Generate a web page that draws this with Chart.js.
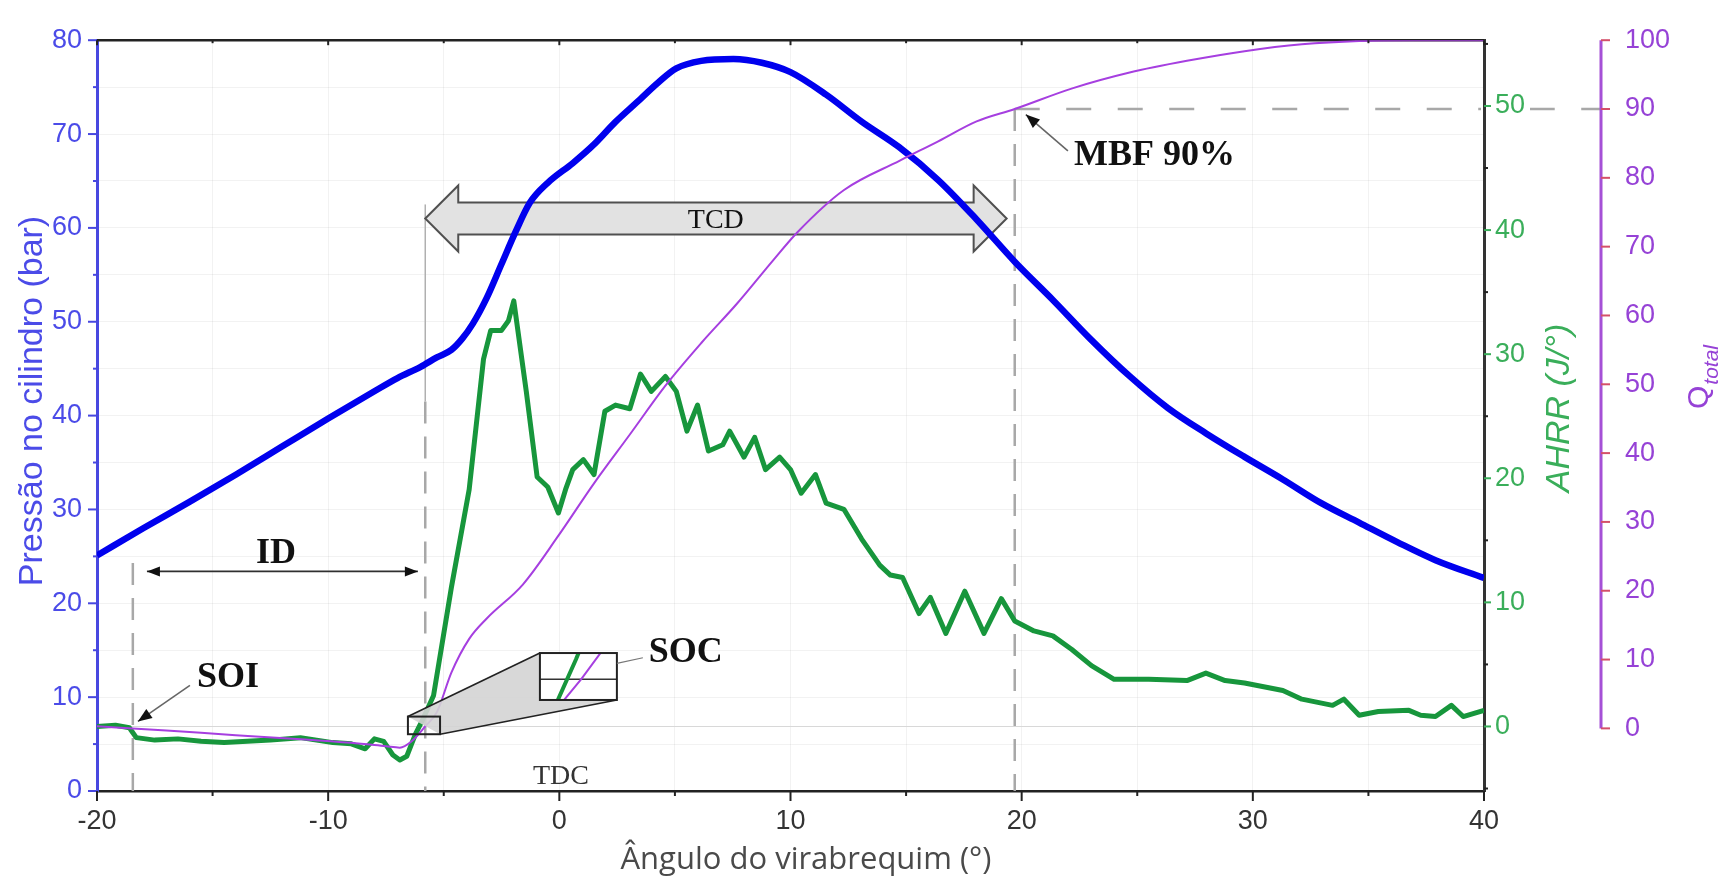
<!DOCTYPE html>
<html lang="pt-br">
<head>
<meta charset="UTF-8">
<title>Pressão no cilindro, AHRR e Q total</title>
<script src="https://cdn.jsdelivr.net/npm/chart.js"></script>
<style>
    html, body { margin: 0; padding: 0; background: #fff; overflow: hidden; }
    #grafico { display: block; }
</style>
</head>
<body>

<canvas id="grafico" width="1731" height="889"></canvas>

<script>
// Pressão no cilindro (bar) x ângulo do virabrequim (°)
const pressaoAngulo = [-20, -18, -16, -14, -12, -10, -8, -7, -6,
    -5.3, -4.67, -4.2, -3.74, -3.13, -2.51, -1.89, -1.27, -0.5,
    0.58, 1.5, 2.43, 3.36, 4.28, 5.06, 6.14, 7.53, 8.76, 10,
    11.54, 13.09, 14.7, 16.39, 18.05, 19.7, 21.36, 23, 24.67, 26.33,
    27.98, 29.64, 31.3, 32.94, 34.6, 36.27, 37.9, 40];
const pressao = [25.1, 28.0, 30.8, 33.7, 36.7, 39.7, 42.6, 44.0, 45.2,
    46.2, 47.0, 48.2, 49.8, 52.6, 56.1, 59.6, 62.7, 64.8,
    66.9, 68.9, 71.3, 73.4, 75.5, 77.0, 77.8, 78.0, 77.6, 76.6,
    74.2, 71.3, 68.6, 65.1, 60.9, 56.4, 52.3, 48.1, 44.2, 40.8,
    38.1, 35.6, 33.2, 30.7, 28.6, 26.5, 24.6, 22.7];

// Taxa aparente de liberação de calor, AHRR (J/°)
const ahrrAngulo = [-20, -19.2, -18.6, -18.3, -17.5, -16.5, -15.5, -14.5, -13.5, -12.5,
    -11.2, -10.5, -9.8, -9.0, -8.4, -8.0, -7.6, -7.2, -6.9, -6.6,
    -6.22, -5.9, -5.44, -4.67, -3.9, -3.28, -2.97, -2.51, -2.2, -1.97,
    -1.43, -0.96, -0.5, -0.04, 0.27, 0.58, 1.04, 1.5, 1.97, 2.43,
    3.05, 3.51, 3.98, 4.59, 5.06, 5.52, 5.98, 6.45, 7.07, 7.37,
    7.99, 8.45, 8.92, 9.53, 10.0, 10.46, 11.08, 11.54, 12.31, 13.08,
    13.86, 14.32, 14.85, 15.56, 16.05, 16.72, 17.54, 18.37, 19.12, 19.7,
    20.53, 21.35, 22.17, 23.02, 24.0, 25.5, 27.15, 27.97, 28.8, 29.64,
    31.3, 32.12, 33.45, 33.94, 34.6, 35.43, 36.75, 37.26, 37.9, 38.59,
    39.1, 40];
const ahrr = [0, 0.1, -0.1, -0.9, -1.1, -1.0, -1.2, -1.3, -1.2, -1.1,
    -0.9, -1.1, -1.3, -1.4, -1.8, -1.0, -1.2, -2.3, -2.7, -2.4,
    -0.6, 0.6, 2.5, 11.2, 19.1, 29.6, 31.9, 31.9, 32.7, 34.3,
    27.0, 20.1, 19.3, 17.2, 19.1, 20.7, 21.5, 20.3, 25.4, 25.9,
    25.6, 28.4, 27.0, 28.2, 27.0, 23.8, 25.9, 22.2, 22.7, 23.8,
    21.7, 23.3, 20.7, 21.7, 20.7, 18.8, 20.3, 18.0, 17.5, 15.1,
    13.0, 12.2, 12.0, 9.1, 10.4, 7.5, 10.9, 7.5, 10.3, 8.5,
    7.7, 7.3, 6.2, 4.9, 3.8, 3.8, 3.7, 4.3, 3.7, 3.5,
    2.9, 2.2, 1.7, 2.2, 0.9, 1.2, 1.3, 0.9, 0.8, 1.7,
    0.8, 1.3];

// Calor acumulado, Q total (%)
const qAngulo = [-20, -17, -14, -11, -9, -7.5, -6.9, -6.4, -5.8, -5.29,
    -4.67, -3.9, -3.13, -1.58, -0.04, 1.5, 3.05, 4.59, 6.14, 7.68,
    9.22, 10.3, 12.3, 14.73, 16.39, 18.05, 19.7, 22.19, 24.67, 27.15,
    29.64, 32.12, 34.6, 37, 40];
const qTotal = [0.3, -0.3, -1.0, -1.6, -2.1, -2.6, -2.8, -1.9, 0.3, 2.4,
    8.1, 13.0, 16.0, 20.9, 28.0, 35.6, 42.7, 49.8, 56.0, 61.7,
    67.9, 72.1, 78.2, 82.5, 85.3, 88.2, 90.0, 93.0, 95.3, 97.0,
    98.4, 99.4, 99.9, 100, 100];

// rótulos dos eixos
const rotulosAngulo = [-20, -10, 0, 10, 20, 30, 40];
const rotulosPressao = [0, 10, 20, 30, 40, 50, 60, 70, 80];
const rotulosAhrr = [0, 10, 20, 30, 40, 50];
const rotulosQ = [0, 10, 20, 30, 40, 50, 60, 70, 80, 90, 100];

// eventos da combustão (°)
const anguloSOI = -18.45;
const anguloSOC = -5.8;
const anguloMBF90 = 19.7;
const fimTCD = 19.35;
const qMBF = 90;

// janela ampliada do SOC (x em graus, p em bar) e onde ela é desenhada
const lupaOrigem = { x: [-6.55, -5.16], p: [6.05, 7.93] };
const lupaDestino = { x: [-0.84, 2.49], p: [9.7, 14.7] };

const fonteSans = '"Liberation Sans", Arial, sans-serif';
const fonteSerif = '"Liberation Serif", "Times New Roman", serif';
const corPressao = '#0000ee';
const corAhrr = '#17963c';
const corQ = '#a63fe0';
const corTxtPressao = '#4b4be8';
const corTxtAhrr = '#3aae5a';
const corTxtQ = '#9642d6';

const pares = (xs, ys) => xs.map((x, i) => ({ x: x, y: ys[i] }));

function linha(ctx, x1, y1, x2, y2) {
    ctx.beginPath();
    ctx.moveTo(x1, y1);
    ctx.lineTo(x2, y2);
    ctx.stroke();
}

// ponta de seta preenchida em (x2, y2), apontando de (x1, y1) para (x2, y2)
function ponta(ctx, x1, y1, x2, y2, comp, larg) {
    const ang = Math.atan2(y2 - y1, x2 - x1);
    ctx.save();
    ctx.translate(x2, y2);
    ctx.rotate(ang);
    ctx.beginPath();
    ctx.moveTo(0, 0);
    ctx.lineTo(-comp, -larg);
    ctx.lineTo(-comp, larg);
    ctx.closePath();
    ctx.fill();
    ctx.restore();
}

function desenharLupa(chart) {
    const { ctx, scales: { x, y, yAhrr } } = chart;
    const px = v => x.getPixelForValue(v);
    const py = v => y.getPixelForValue(v);
    const s = { l: px(lupaOrigem.x[0]), r: px(lupaOrigem.x[1]), t: py(lupaOrigem.p[1]), b: py(lupaOrigem.p[0]) };
    const q = { l: px(lupaDestino.x[0]), r: px(lupaDestino.x[1]), t: py(lupaDestino.p[1]), b: py(lupaDestino.p[0]) };
    const kx = (q.r - q.l) / (s.r - s.l);
    const ky = (q.b - q.t) / (s.b - s.t);
    const mapa = (X, Y) => [q.l + (X - s.l) * kx, q.t + (Y - s.t) * ky];

    ctx.save();
    // faixa cinza ligando as duas caixas
    ctx.beginPath();
    ctx.moveTo(s.l, s.t);
    ctx.lineTo(q.l, q.t);
    ctx.lineTo(q.l, q.b);
    ctx.lineTo(q.r, q.b);
    ctx.lineTo(s.r, s.b);
    ctx.closePath();
    ctx.fillStyle = 'rgba(212,212,212,0.9)';
    ctx.fill();
    ctx.strokeStyle = '#222';
    ctx.lineWidth = 1.6;
    linha(ctx, s.l, s.t, q.l, q.t);
    linha(ctx, s.r, s.b, q.r, q.b);

    ctx.fillStyle = '#fff';
    ctx.fillRect(q.l, q.t, q.r - q.l, q.b - q.t);

    // curvas ampliadas
    ctx.save();
    ctx.beginPath();
    ctx.rect(q.l, q.t, q.r - q.l, q.b - q.t);
    ctx.clip();
    const y0 = mapa(0, yAhrr.getPixelForValue(0))[1];
    ctx.strokeStyle = '#333';
    ctx.lineWidth = 1.5;
    linha(ctx, q.l, y0, q.r, y0);
    [[0, corAhrr, 4], [2, corQ, 2]].forEach(([i, cor, w]) => {
        const pts = chart.getDatasetMeta(i).data;
        ctx.beginPath();
        pts.forEach((p, k) => {
            const [a, b] = mapa(p.x, p.y);
            if (k) ctx.lineTo(a, b); else ctx.moveTo(a, b);
        });
        ctx.strokeStyle = cor;
        ctx.lineWidth = w;
        ctx.stroke();
    });
    ctx.restore();

    ctx.strokeStyle = '#222';
    ctx.lineWidth = 2;
    ctx.strokeRect(q.l, q.t, q.r - q.l, q.b - q.t);
    ctx.strokeRect(s.l, s.t, s.r - s.l, s.b - s.t);

    // ligação até o texto SOC
    ctx.strokeStyle = '#777';
    ctx.lineWidth = 1.2;
    linha(ctx, q.r, q.t + 0.22 * (q.b - q.t), q.r + 26, q.t + 0.1 * (q.b - q.t));
    ctx.restore();
}

const marcacoes = {
    id: 'marcacoes',
    beforeDatasetsDraw(chart) {
        const { ctx, chartArea: area, scales: { x, y, yQ } } = chart;
        const px = v => x.getPixelForValue(v);
        const py = v => y.getPixelForValue(v);
        ctx.save();

        // borda superior
        ctx.strokeStyle = '#222';
        ctx.lineWidth = 2.5;
        linha(ctx, area.left, area.top, area.right, area.top);

        // linhas tracejadas de SOI, SOC e MBF 90%
        ctx.strokeStyle = '#a8a8a8';
        ctx.lineWidth = 2.5;
        ctx.setLineDash([22, 13]);
        linha(ctx, px(anguloSOI), py(24.3), px(anguloSOI), area.bottom);
        linha(ctx, px(anguloSOC), py(41.5), px(anguloSOC), area.bottom);
        const yMbf = yQ.getPixelForValue(qMBF);
        linha(ctx, px(anguloMBF90), yMbf, px(anguloMBF90), area.bottom);

        ctx.setLineDash([25, 26.5]);
        const x0 = px(anguloMBF90);
        linha(ctx, x0, yMbf, area.right - 3, yMbf);
        const xRet = area.right + 46;
        ctx.lineDashOffset = (xRet - x0) % 51.5;
        linha(ctx, xRet, yMbf, yQ.left, yMbf);
        ctx.setLineDash([]);
        ctx.lineDashOffset = 0;

        ctx.strokeStyle = '#b0b0b0';
        ctx.lineWidth = 1.5;
        linha(ctx, px(anguloSOC), py(62.5), px(anguloSOC), py(41.5));

        // seta dupla da duração da combustão
        const xe = px(anguloSOC), xd = px(fimTCD), yc = py(61.0);
        const haste = 16, cab = 33, compCab = 33;
        ctx.beginPath();
        ctx.moveTo(xe, yc);
        ctx.lineTo(xe + compCab, yc - cab);
        ctx.lineTo(xe + compCab, yc - haste);
        ctx.lineTo(xd - compCab, yc - haste);
        ctx.lineTo(xd - compCab, yc - cab);
        ctx.lineTo(xd, yc);
        ctx.lineTo(xd - compCab, yc + cab);
        ctx.lineTo(xd - compCab, yc + haste);
        ctx.lineTo(xe + compCab, yc + haste);
        ctx.lineTo(xe + compCab, yc + cab);
        ctx.closePath();
        ctx.fillStyle = '#e2e2e2';
        ctx.fill();
        ctx.strokeStyle = '#505050';
        ctx.lineWidth = 2;
        ctx.stroke();

        ctx.fillStyle = '#111';
        ctx.font = '28px ' + fonteSerif;
        ctx.textAlign = 'center';
        ctx.textBaseline = 'middle';
        ctx.fillText('TCD', px(6.77), py(60.8));
        ctx.restore();
    },
    afterDatasetsDraw(chart) {
        const { ctx, chartArea: area, scales: { x, y, yAhrr, yQ } } = chart;
        const px = v => x.getPixelForValue(v);
        const py = v => y.getPixelForValue(v);

        desenharLupa(chart);

        ctx.save();
        // setas
        ctx.fillStyle = '#111';
        ctx.strokeStyle = '#303030';
        ctx.lineWidth = 1.6;
        const yId = py(23.4);
        linha(ctx, px(-17.84), yId, px(-6.12), yId);
        ponta(ctx, px(-6.12), yId, px(-17.84), yId, 13, 5);
        ponta(ctx, px(-17.84), yId, px(-6.12), yId, 13, 5);

        ctx.strokeStyle = '#666';
        linha(ctx, px(-15.98), py(11.26), px(-18.23), py(7.41));
        ponta(ctx, px(-15.98), py(11.26), px(-18.23), py(7.41), 14, 5.5);
        linha(ctx, px(22.0), py(68.2), px(20.18), py(72.07));
        ponta(ctx, px(22.0), py(68.2), px(20.18), py(72.07), 14, 5.5);

        // textos
        ctx.fillStyle = '#111';
        ctx.font = 'bold 36px ' + fonteSerif;
        ctx.textAlign = 'center';
        ctx.textBaseline = 'middle';
        ctx.fillText('ID', px(-12.26), py(25.3));
        ctx.fillText('SOI', px(-14.33), py(12.1));
        ctx.fillText('SOC', px(5.47), py(14.7));
        ctx.textAlign = 'left';
        ctx.fillText('MBF 90%', px(22.26), py(67.7));
        ctx.textAlign = 'center';
        ctx.fillStyle = '#333';
        ctx.font = '28px ' + fonteSerif;
        ctx.fillText('TDC', px(0.07), py(1.56));

        // marcas dos eixos
        ctx.lineWidth = 2;
        ctx.strokeStyle = '#4848e0';
        y.ticks.forEach(t => {
            const yy = py(t.value);
            linha(ctx, area.left - (t.value % 10 === 0 ? 9 : 4), yy, area.left, yy);
        });
        ctx.strokeStyle = '#222';
        x.ticks.forEach(t => {
            const xx = px(t.value);
            const maior = t.value % 10 === 0;
            linha(ctx, xx, area.bottom, xx, area.bottom + (maior ? 10 : 5));
            linha(ctx, xx, area.top, xx, area.top + (maior ? 5 : 3));
        });
        yAhrr.ticks.forEach(t => {
            const yy = yAhrr.getPixelForValue(t.value);
            const maior = t.value % 10 === 0;
            ctx.strokeStyle = maior ? corTxtAhrr : '#222';
            linha(ctx, area.right, yy, area.right + (maior ? 7 : 4), yy);
        });

        // eixo de Q total, só de 0 a 100
        ctx.strokeStyle = '#a550d6';
        ctx.lineWidth = 3;
        linha(ctx, yQ.left, yQ.getPixelForValue(0), yQ.left, yQ.getPixelForValue(100));
        ctx.strokeStyle = '#d4506a';
        ctx.lineWidth = 2;
        yQ.ticks.forEach(t => {
            const yy = yQ.getPixelForValue(t.value);
            linha(ctx, yQ.left, yy, yQ.left + 9, yy);
        });

        // títulos dos eixos
        ctx.textAlign = 'center';
        ctx.textBaseline = 'alphabetic';

        ctx.save();
        ctx.translate(30, 401);
        ctx.rotate(-Math.PI / 2);
        ctx.fillStyle = corTxtPressao;
        ctx.font = '34px ' + fonteSans;
        ctx.fillText('Pressão no cilindro (bar)', 0, 12);
        ctx.restore();

        ctx.save();
        ctx.translate(1557, 408);
        ctx.rotate(-Math.PI / 2);
        ctx.fillStyle = corTxtAhrr;
        ctx.font = 'italic 34px ' + fonteSans;
        ctx.fillText('AHRR (J/°)', 0, 12);
        ctx.restore();

        ctx.save();
        ctx.translate(1697, 377);
        ctx.rotate(-Math.PI / 2);
        ctx.fillStyle = corTxtQ;
        ctx.textAlign = 'left';
        ctx.font = '30px ' + fonteSans;
        const wQ = ctx.measureText('Q').width;
        ctx.font = 'italic 21px ' + fonteSans;
        const wSub = ctx.measureText('total').width;
        const ini = -(wQ + 1 + wSub) / 2;
        ctx.font = '30px ' + fonteSans;
        ctx.fillText('Q', ini, 11);
        ctx.font = 'italic 21px ' + fonteSans;
        ctx.fillText('total', ini + wQ + 1, 21);
        ctx.restore();

        ctx.fillStyle = '#4a4a4a';
        ctx.font = '31px "Open Sans", ' + fonteSans;
        ctx.textBaseline = 'middle';
        ctx.fillText('Ângulo do virabrequim (°)', 806, 860);
        ctx.restore();
    }
};

const fonteTicks = { family: fonteSans, size: 27 };

new Chart(document.getElementById('grafico'), {
    type: 'line',
    data: {
        datasets: [
            {
                label: 'AHRR',
                data: pares(ahrrAngulo, ahrr),
                yAxisID: 'yAhrr',
                borderColor: corAhrr,
                borderWidth: 5,
                pointRadius: 0,
                tension: 0,
                borderJoinStyle: 'round',
                order: 3
            },
            {
                label: 'Pressão',
                data: pares(pressaoAngulo, pressao),
                yAxisID: 'y',
                borderColor: corPressao,
                borderWidth: 6.5,
                pointRadius: 0,
                cubicInterpolationMode: 'monotone',
                order: 2
            },
            {
                label: 'Q total',
                data: pares(qAngulo, qTotal),
                yAxisID: 'yQ',
                borderColor: corQ,
                borderWidth: 2,
                pointRadius: 0,
                cubicInterpolationMode: 'monotone',
                order: 1
            }
        ]
    },
    options: {
        responsive: false,
        animation: false,
        devicePixelRatio: 1,
        events: [],
        layout: { padding: { top: 24, left: 0, right: 0, bottom: 0 } },
        plugins: {
            legend: { display: false },
            tooltip: { enabled: false }
        },
        scales: {
            x: {
                type: 'linear',
                position: 'bottom',
                min: -20,
                max: 40,
                afterFit: s => { s.height = 98; },
                grid: { color: 'rgba(0,0,0,0.05)', drawTicks: false },
                border: { color: '#222', width: 2.5 },
                ticks: {
                    stepSize: 5,
                    autoSkip: false,
                    maxRotation: 0,
                    padding: 14,
                    color: '#333',
                    font: fonteTicks,
                    callback: v => rotulosAngulo.includes(v) ? v : ''
                }
            },
            y: {
                position: 'left',
                min: 0,
                max: 80,
                afterFit: s => { s.width = 97; },
                grid: { color: 'rgba(0,0,0,0.05)', drawTicks: false },
                border: { color: '#4848e0', width: 3 },
                ticks: {
                    stepSize: 5,
                    autoSkip: false,
                    padding: 15,
                    color: corTxtPressao,
                    font: fonteTicks,
                    callback: v => rotulosPressao.includes(v) ? v : ''
                }
            },
            yAhrr: {
                position: 'right',
                weight: 0,
                min: -5.2,
                max: 55.3,
                afterFit: s => { s.width = 117; },
                afterBuildTicks: s => { s.min = -5.2; s.max = 55.3; },
                grid: {
                    drawTicks: false,
                    color: c => (c.tick && c.tick.value === 0) ? '#d8d8d8' : 'rgba(0,0,0,0)'
                },
                border: { color: '#333', width: 3 },
                ticks: {
                    stepSize: 5,
                    includeBounds: false,
                    autoSkip: false,
                    padding: 11,
                    color: corTxtAhrr,
                    font: fonteTicks,
                    callback: v => rotulosAhrr.includes(v) ? v : ''
                }
            },
            yQ: {
                position: 'right',
                weight: 1,
                min: -9.1,
                max: 100,
                afterFit: s => { s.width = 130; },
                afterBuildTicks: s => { s.min = -9.1; s.max = 100; },
                grid: { drawOnChartArea: false, drawTicks: false },
                border: { display: false },
                ticks: {
                    stepSize: 10,
                    includeBounds: false,
                    autoSkip: false,
                    padding: 24,
                    color: corTxtQ,
                    font: fonteTicks,
                    callback: v => rotulosQ.includes(v) ? v : ''
                }
            }
        }
    },
    plugins: [marcacoes]
});
</script>

</body>
</html>
